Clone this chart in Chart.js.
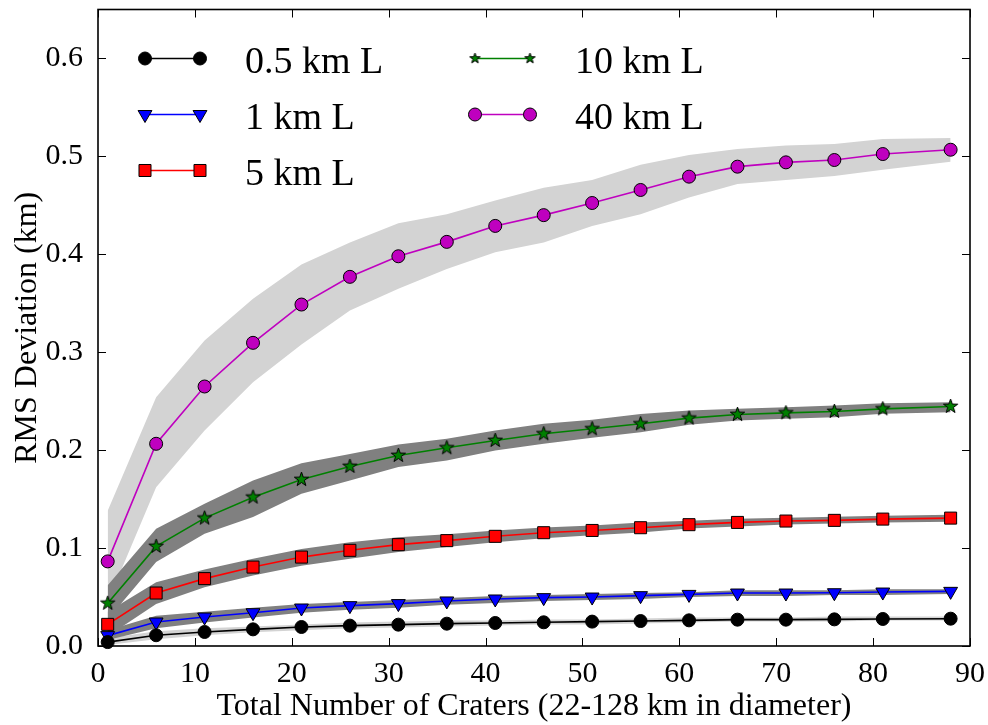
<!DOCTYPE html>
<html>
<head>
<meta charset="utf-8">
<script src="https://cdn.jsdelivr.net/npm/chart.js@4.4.1/dist/chart.umd.min.js"></script>
<style>
  html, body { margin: 0; padding: 0; background: #fff; }
</style>
</head>
<body>
<canvas id="c" width="988" height="725"></canvas>
<script>
// x positions: number of craters
const craters = [1, 6, 11, 16, 21, 26, 31, 36, 41, 46, 51, 56, 61, 66, 71, 76, 81, 88];

// mean RMS deviation (km) per lava thickness
const rms05 = [0.004, 0.011, 0.0143, 0.017, 0.0194, 0.0208, 0.0218, 0.0228, 0.0235, 0.0242, 0.0249, 0.0255, 0.0262, 0.0269, 0.0269, 0.0272, 0.0276, 0.0279];
const rms1 = [0.0106, 0.0245, 0.0296, 0.034, 0.0388, 0.0412, 0.0433, 0.046, 0.048, 0.0494, 0.05, 0.0514, 0.0527, 0.0541, 0.0541, 0.0544, 0.0551, 0.0558];
const rms5 = [0.0221, 0.0541, 0.0688, 0.0806, 0.0908, 0.0977, 0.1035, 0.1076, 0.112, 0.1157, 0.118, 0.1208, 0.1239, 0.1262, 0.1276, 0.1283, 0.1296, 0.1306];
const rms10 = [0.0436, 0.1017, 0.1306, 0.152, 0.170, 0.1834, 0.1946, 0.2024, 0.2099, 0.2167, 0.2218, 0.2269, 0.2327, 0.2364, 0.2381, 0.2395, 0.2422, 0.2446];
const rms40 = [0.0864, 0.2065, 0.265, 0.3096, 0.3487, 0.377, 0.398, 0.4127, 0.429, 0.44, 0.4524, 0.4657, 0.4793, 0.4895, 0.4939, 0.4963, 0.5024, 0.5068];

// spread bands (upper / lower)
const hi05 = [0.008, 0.015, 0.018, 0.020, 0.022, 0.024, 0.025, 0.026, 0.026, 0.027, 0.027, 0.028, 0.029, 0.029, 0.029, 0.030, 0.030, 0.030];
const lo05 = [0.001, 0.007, 0.011, 0.014, 0.016, 0.018, 0.019, 0.020, 0.021, 0.022, 0.022, 0.023, 0.024, 0.025, 0.025, 0.025, 0.026, 0.026];
const hi1 = [0.016, 0.031, 0.035, 0.039, 0.043, 0.045, 0.047, 0.049, 0.051, 0.052, 0.053, 0.054, 0.055, 0.057, 0.057, 0.057, 0.058, 0.058];
const lo1 = [0.006, 0.018, 0.024, 0.029, 0.034, 0.037, 0.039, 0.042, 0.044, 0.046, 0.047, 0.048, 0.050, 0.051, 0.051, 0.052, 0.052, 0.053];
const hi5 = [0.035, 0.065, 0.078, 0.089, 0.099, 0.106, 0.111, 0.114, 0.118, 0.121, 0.123, 0.126, 0.128, 0.130, 0.131, 0.132, 0.133, 0.134];
const lo5 = [0.010, 0.043, 0.060, 0.072, 0.082, 0.089, 0.096, 0.101, 0.106, 0.110, 0.113, 0.116, 0.120, 0.122, 0.124, 0.125, 0.126, 0.127];
const hi10 = [0.062, 0.1198, 0.1453, 0.169, 0.1867, 0.196, 0.2058, 0.2116, 0.220, 0.2269, 0.231, 0.237, 0.2405, 0.2422, 0.2439, 0.2456, 0.248, 0.249];
const lo10 = [0.027, 0.0857, 0.1147, 0.1317, 0.1555, 0.169, 0.1827, 0.1895, 0.1997, 0.2065, 0.2126, 0.2184, 0.2259, 0.2303, 0.232, 0.2337, 0.2371, 0.2388];
const hi40 = [0.138, 0.254, 0.312, 0.3545, 0.3895, 0.412, 0.4316, 0.441, 0.455, 0.468, 0.476, 0.4915, 0.5014, 0.5075, 0.511, 0.5126, 0.5177, 0.5187];
const lo40 = [0.045, 0.162, 0.220, 0.2694, 0.3079, 0.3426, 0.3647, 0.385, 0.402, 0.412, 0.429, 0.441, 0.458, 0.4718, 0.476, 0.480, 0.4864, 0.4946];

const labels = ["0.5 km L", "1 km L", "5 km L", "10 km L", "40 km L"];
const xTicks = [0, 10, 20, 30, 40, 50, 60, 70, 80, 90];
const yTicks = [0, 0.1, 0.2, 0.3, 0.4, 0.5, 0.6];

const SERIF = "'Liberation Serif', 'Times New Roman', serif";

const makeStar = (r) => {
  const c = document.createElement("canvas");
  const s = Math.ceil(r * 2 + 4);
  c.width = s;
  c.height = s;
  const g = c.getContext("2d");
  g.beginPath();
  for (let i = 0; i < 10; i++) {
    const rr = i % 2 ? r * 0.4 : r;
    const a = -Math.PI / 2 + (i * Math.PI) / 5;
    g.lineTo(s / 2 + rr * Math.cos(a), s / 2 + rr * Math.sin(a));
  }
  g.closePath();
  g.fillStyle = "#008000";
  g.fill();
  g.strokeStyle = "#000";
  g.lineWidth = 1;
  g.stroke();
  return c;
};

const pts = (ys) => craters.map((x, i) => ({ x, y: ys[i] }));

const band = (hi, lo, color, order) => [
  { data: pts(hi), fill: "+1", backgroundColor: color, borderColor: "transparent", borderWidth: 0, pointRadius: 0, order },
  { data: pts(lo), fill: false, borderColor: "transparent", borderWidth: 0, pointRadius: 0, order },
];

const series = (i, ys, color, style, radius, fillColor, legendStyle) => ({
  label: labels[i],
  data: pts(ys),
  borderColor: color,
  borderWidth: 1.6,
  fill: false,
  pointStyle: style,
  pointRadius: radius,
  pointBackgroundColor: fillColor,
  pointBorderColor: "#000",
  pointBorderWidth: 1,
  clip: false,
  order: 0,
  legendStyle: legendStyle || style,
});

const lineSets = [
  series(0, rms05, "#000000", "circle", 6.5, "#000000"),
  series(1, rms1, "#0000ff", "triangle", 8, "#0000ff"),
  series(2, rms5, "#ff0000", "rect", 8.5, "#ff0000"),
  series(3, rms10, "#008000", makeStar(7.5), 6, "#008000", makeStar(5.5)),
  series(4, rms40, "#bf00bf", "circle", 6.5, "#bf00bf"),
];
// down-pointing triangles
lineSets[1].pointRotation = 180;

const datasets = [
  ...band(hi40, lo40, "#d3d3d3", 3),
  ...band(hi05, lo05, "#d3d3d3", 3),
  ...band(hi10, lo10, "#808080", 2),
  ...band(hi5, lo5, "#808080", 2),
  ...band(hi1, lo1, "#808080", 2),
  ...lineSets,
];

// box with inward ticks on all four sides
const frame = {
  id: "frame",
  afterDatasetsDraw(chart) {
    const { ctx, chartArea: a, scales } = chart;
    ctx.save();
    ctx.strokeStyle = "#000";
    ctx.lineWidth = 1;
    const tl = 8;
    ctx.beginPath();
    xTicks.forEach((v) => {
      const px = Math.round(scales.x.getPixelForValue(v)) + 0.5;
      ctx.moveTo(px, a.bottom);
      ctx.lineTo(px, a.bottom - tl);
      ctx.moveTo(px, a.top);
      ctx.lineTo(px, a.top + tl);
    });
    yTicks.forEach((v) => {
      const py = Math.round(scales.y.getPixelForValue(v)) + 0.5;
      ctx.moveTo(a.left, py);
      ctx.lineTo(a.left + tl, py);
      ctx.moveTo(a.right, py);
      ctx.lineTo(a.right - tl, py);
    });
    ctx.stroke();
    ctx.lineWidth = 1.6;
    ctx.strokeRect(a.left, a.top, a.right - a.left, a.bottom - a.top);
    ctx.restore();
  },
};

// two-column legend, matplotlib style (marker - line - marker)
const legend2 = {
  id: "legend2",
  afterDraw(chart) {
    const { ctx, chartArea: a } = chart;
    const cols = [47, 377];
    const rowH = 56;
    ctx.save();
    lineSets.forEach((ds, i) => {
      const col = i < 3 ? 0 : 1;
      const row = i < 3 ? i : i - 3;
      const x0 = a.left + cols[col];
      const x1 = x0 + 55;
      const y = a.top + 49 + row * rowH;
      ctx.strokeStyle = ds.borderColor;
      ctx.lineWidth = 1.6;
      ctx.beginPath();
      ctx.moveTo(x0, y);
      ctx.lineTo(x1, y);
      ctx.stroke();
      [x0, x1].forEach((px) => {
        ctx.fillStyle = ds.pointBackgroundColor;
        ctx.strokeStyle = "#000";
        ctx.lineWidth = 1;
        Chart.helpers.drawPoint(ctx, {
          pointStyle: ds.legendStyle,
          radius: ds.pointRadius,
          rotation: ds.pointRotation || 0,
          borderWidth: 1,
        }, px, y);
      });
      ctx.fillStyle = "#000";
      ctx.font = `38px ${SERIF}`;
      ctx.textBaseline = "alphabetic";
      ctx.textAlign = "left";
      ctx.fillText(ds.label, x1 + 45, y + 14);
    });
    ctx.restore();
  },
};

new Chart(document.getElementById("c"), {
  type: "line",
  data: { datasets },
  options: {
    responsive: false,
    animation: false,
    layout: { padding: { top: 8, right: 18, left: 0, bottom: 0 } },
    plugins: {
      legend: { display: false },
      tooltip: { enabled: false },
    },
    scales: {
      x: {
        type: "linear",
        min: 0,
        max: 90,
        afterBuildTicks: (s) => { s.ticks = xTicks.map((value) => ({ value })); },
        afterFit: (s) => { s.height = 79; s.paddingLeft = 0; s.paddingRight = 0; },
        grid: { display: false },
        border: { display: false },
        ticks: {
          autoSkip: false,
          maxRotation: 0,
          padding: 2,
          color: "#000",
          font: { family: SERIF, size: 30 },
          callback: (v) => String(v),
        },
        title: {
          display: true,
          text: "Total Number of Craters (22-128 km in diameter)",
          color: "#000",
          font: { family: SERIF, size: 32 },
          padding: { top: 0, bottom: -1 },
        },
      },
      y: {
        min: 0,
        max: 0.65,
        afterBuildTicks: (s) => { s.ticks = yTicks.map((value) => ({ value })); },
        afterFit: (s) => { s.width = 98; s.paddingTop = 0; s.paddingBottom = 0; },
        grid: { display: false },
        border: { display: false },
        ticks: {
          autoSkip: false,
          padding: 7,
          color: "#000",
          font: { family: SERIF, size: 30 },
          callback: (v) => v.toFixed(1),
        },
        title: {
          display: true,
          text: "RMS Deviation (km)",
          color: "#000",
          font: { family: SERIF, size: 32 },
          padding: { top: 8, bottom: 0 },
        },
      },
    },
  },
  plugins: [frame, legend2],
});
</script>
</body>
</html>
